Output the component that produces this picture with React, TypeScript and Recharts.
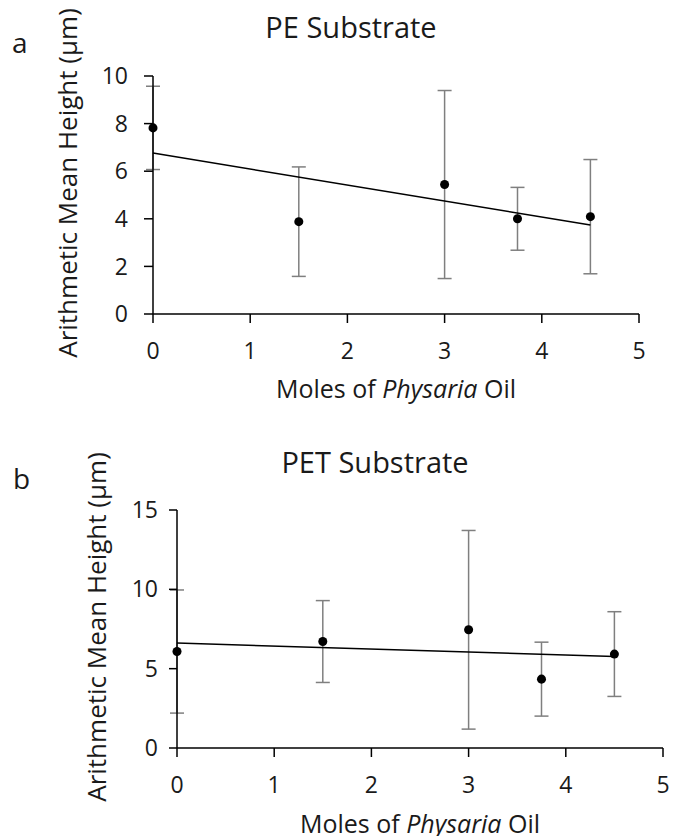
import { ScatterChart, Scatter, XAxis, YAxis, ErrorBar } from "recharts";

// moles of Physaria oil (x) for each sample
const molesX = [0, 1.5, 3, 3.75, 4.5];

// PE substrate, arithmetic mean height (um) and its error
const peHeight = [7.82, 3.88, 5.44, 4.0, 4.09];
const peError = [1.75, 2.3, 3.95, 1.32, 2.4];

// PET substrate
const petHeight = [6.08, 6.71, 7.45, 4.34, 5.92];
const petError = [3.88, 2.58, 6.26, 2.33, 2.67];

// linear trend lines, ends
const trendX = [0, 4.5];
const peTrend = [6.76, 3.74];
const petTrend = [6.61, 5.77];

const xTicks = [0, 1, 2, 3, 4, 5];
const peTicks = [0, 2, 4, 6, 8, 10];
const petTicks = [0, 5, 10, 15];

const FONT = "'Open Sans', 'DejaVu Sans', sans-serif";
const TEXT = "#1a1a1a";

type PanelProps = {
  top: number;
  height: number;
  margin: { top: number; right: number; bottom: number; left: number };
  heights: number[];
  errors: number[];
  trend: number[];
  yTicks: number[];
  yMax: number;
  yTickSize: number;
  yTickMargin: number;
  yTitle: { x: number; y: number };
  xTitle: { x: number; y: number };
};

function Panel(p: PanelProps) {
  const points = molesX.map((x, i) => ({ x, y: p.heights[i], err: p.errors[i] }));
  const line = trendX.map((x, i) => ({ x, y: p.trend[i] }));

  return (
    <div style={{ position: "absolute", left: 0, top: p.top }}>
      <ScatterChart width={673} height={p.height} margin={p.margin}>
        <XAxis
          type="number"
          dataKey="x"
          domain={[0, 5]}
          ticks={xTicks}
          interval={0}
          height={60}
          axisLine={{ stroke: "#000", strokeWidth: 1.5 }}
          tickLine={{ stroke: "#000", strokeWidth: 1.5 }}
          tickSize={9}
          tickMargin={20}
          tick={{ fill: TEXT, fontSize: 23, fontFamily: FONT }}
          label={{
            content: () => (
              <text
                x={p.xTitle.x}
                y={p.xTitle.y}
                textAnchor="middle"
                fill={TEXT}
                fontSize={25}
                fontFamily={FONT}
              >
                Moles of <tspan fontStyle="italic">Physaria</tspan> Oil
              </text>
            ),
          }}
        />
        <YAxis
          type="number"
          dataKey="y"
          domain={[0, p.yMax]}
          ticks={p.yTicks}
          interval={0}
          width={60}
          axisLine={{ stroke: "#000", strokeWidth: 1.5 }}
          tickLine={{ stroke: "#000", strokeWidth: 1.5 }}
          tickSize={p.yTickSize}
          tickMargin={p.yTickMargin}
          tick={{ fill: TEXT, fontSize: 23, fontFamily: FONT }}
          label={{
            content: () => (
              <text
                x={p.yTitle.x}
                y={p.yTitle.y}
                textAnchor="middle"
                fill={TEXT}
                fontSize={26}
                fontFamily={FONT}
                transform={`rotate(-90, ${p.yTitle.x}, ${p.yTitle.y})`}
              >
                Arithmetic Mean Height (µm)
              </text>
            ),
          }}
        />
        <Scatter
          data={line}
          line={{ stroke: "#000", strokeWidth: 1.5 }}
          shape={() => <g />}
          legendType="none"
          isAnimationActive={false}
        />
        <Scatter data={points} fill="#000" isAnimationActive={false}>
          <ErrorBar dataKey="err" direction="y" width={7} stroke="#7f7f7f" strokeWidth={1.5} />
        </Scatter>
      </ScatterChart>
    </div>
  );
}

export default function App() {
  return (
    <div
      style={{
        position: "absolute",
        left: 0,
        top: 0,
        width: 673,
        height: 836,
        background: "#fff",
        overflow: "hidden",
      }}
    >
      <Panel
        top={0}
        height={420}
        margin={{ top: 76, right: 34, bottom: 46, left: 93 }}
        heights={peHeight}
        errors={peError}
        trend={peTrend}
        yTicks={peTicks}
        yMax={10}
        yTickSize={9}
        yTickMargin={16}
        yTitle={{ x: 77, y: 183 }}
        xTitle={{ x: 396, y: 398 }}
      />
      <Panel
        top={420}
        height={416}
        margin={{ top: 90, right: 10, bottom: 28, left: 117 }}
        heights={petHeight}
        errors={petError}
        trend={petTrend}
        yTicks={petTicks}
        yMax={15}
        yTickSize={8}
        yTickMargin={11}
        yTitle={{ x: 106, y: 207 }}
        xTitle={{ x: 420, y: 413 }}
      />
      <svg
        width={673}
        height={836}
        style={{ position: "absolute", left: 0, top: 0, pointerEvents: "none" }}
      >
        <g fill={TEXT} fontFamily={FONT}>
          <text x={12} y={53} fontSize={28}>a</text>
          <text x={351} y={38} fontSize={29} textAnchor="middle">PE Substrate</text>
          <text x={13} y={489} fontSize={28}>b</text>
          <text x={375} y={473} fontSize={29} textAnchor="middle">PET Substrate</text>
        </g>
      </svg>
    </div>
  );
}
